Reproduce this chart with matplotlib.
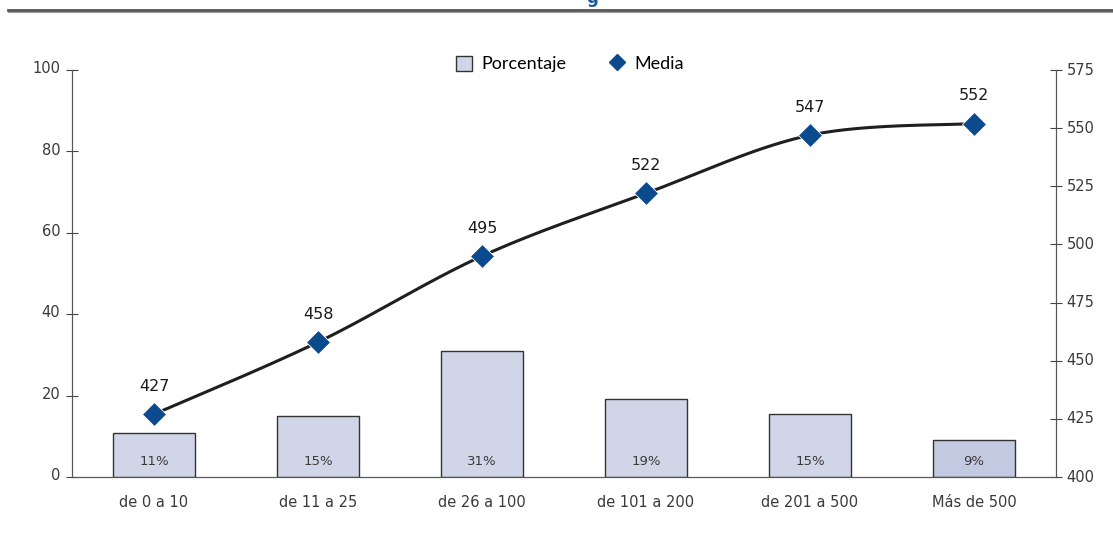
import numpy as np
import matplotlib
matplotlib.use('Agg')
import matplotlib.pyplot as plt
from matplotlib.transforms import ScaledTranslation
from matplotlib.patches import Patch
from matplotlib.lines import Line2D

plt.rcParams['font.family'] = ['DejaVu Sans']

# ---------------------------------------------------------------------------
# Data
# ---------------------------------------------------------------------------
categories = ['de 0 a 10', 'de 11 a 25', 'de 26 a 100', 'de 101 a 200',
              'de 201 a 500', 'Más de 500']
porcentaje = [10.8, 15.1, 30.9, 19.1, 15.4, 9.0]
pct_labels = ['11%', '15%', '31%', '19%', '15%', '9%']
media = [427, 458, 495, 522, 547, 552]

BAR_COLOR = '#d0d5e8'
BAR_LAST = '#c3c9e1'
DIAMOND = '#0b4a8c'
TXT = '#3a3a3a'


def smooth_bezier(xs, ys, n=50):
    # spreadsheet-style smoothed line: cubic Bezier per segment,
    # control points at 1/6 of neighbour differences, ends duplicated
    P = np.column_stack([xs, ys]).astype(float)
    P = np.vstack([P[:1], P, P[-1:]])
    t = np.linspace(0, 1, n)[:, None]
    pts = []
    for i in range(1, len(P) - 2):
        p0, p3 = P[i], P[i + 1]
        c1 = p0 + (P[i + 1] - P[i - 1]) / 6
        c2 = p3 - (P[i + 2] - P[i]) / 6
        seg = ((1 - t) ** 3 * p0 + 3 * (1 - t) ** 2 * t * c1
               + 3 * (1 - t) * t ** 2 * c2 + t ** 3 * p3)
        pts.append(seg)
    pts = np.vstack(pts)
    return pts[:, 0], pts[:, 1]


fig = plt.figure(figsize=(11.13, 5.43), dpi=100)
ax = fig.add_axes([0.0647, 0.1215, 0.8841, 0.7495])
ax2 = ax.twinx()

x = np.arange(len(categories))
colors = [BAR_COLOR] * (len(categories) - 1) + [BAR_LAST]
ax.bar(x, porcentaje, width=0.5, color=colors, edgecolor='#333333',
       linewidth=1.0, zorder=2)
for xi, lab in zip(x, pct_labels):
    ax.annotate(lab, (xi, 0), xytext=(0, 11), textcoords='offset points',
                ha='center', va='center', fontsize=9.5, color=TXT)

ax.set_xlim(-0.5, len(categories) - 0.5)
ax.set_ylim(0, 100)
ax.set_yticks(range(0, 101, 20))
ax.set_xticks(x)
ax.set_xticklabels(categories, fontsize=10.5, color=TXT)
ax.tick_params(axis='x', length=0, pad=13)
ax.tick_params(axis='y', direction='inout', length=9, width=0.8,
               colors='#444444', labelsize=10.5, labelcolor=TXT, pad=4)
for lab in ax.get_yticklabels():
    lab.set_transform(lab.get_transform() + ScaledTranslation(0, 2 / 72, fig.dpi_scale_trans))

# right axis: media
sx, sy = smooth_bezier(x, media)
ax2.plot(sx, sy, color='#1f1f1f', linewidth=2.2, zorder=3, solid_capstyle='round')
ax2.plot(x, media, linestyle='none', marker='D', markersize=12,
         color=DIAMOND, markeredgecolor='white', markeredgewidth=0.6, zorder=4)
for xi, v in zip(x, media):
    ax2.annotate(str(v), (xi, v), xytext=(0, 20), textcoords='offset points',
                 ha='center', va='center', fontsize=11.5, color='#1a1a1a')
ax2.set_ylim(400, 575)
ax2.set_yticks(range(400, 576, 25))
ax2.tick_params(axis='y', direction='inout', length=9, width=0.8,
                colors='#444444', labelsize=10.5, labelcolor=TXT, pad=3)
for lab in ax2.get_yticklabels():
    lab.set_transform(lab.get_transform() + ScaledTranslation(0, 1 / 72, fig.dpi_scale_trans))

for a in (ax, ax2):
    a.spines['top'].set_visible(False)
    a.spines['left'].set_color('#555555')
    a.spines['right'].set_color('#555555')
    a.spines['bottom'].set_color('#555555')
    a.spines['left'].set_linewidth(0.8)
    a.spines['right'].set_linewidth(0.8)
ax.set_zorder(ax2.get_zorder() - 1)
ax2.patch.set_visible(False)

# legend
handles = [Patch(facecolor=BAR_COLOR, edgecolor='#333333', linewidth=1.0),
           Line2D([], [], linestyle='none', marker='D', markersize=8, color=DIAMOND)]
ax2.legend(handles, ['Porcentaje', 'Media'], ncol=2, frameon=False,
           loc='center', bbox_to_anchor=(0.506, 1.015),
           prop={'family': ['Lato', 'DejaVu Sans'], 'size': 13},
           handlelength=0.9, handleheight=0.9, handletextpad=0.5,
           columnspacing=2.4)

# header rule and clipped title descender
fig.add_artist(Line2D([0.007, 1.0], [0.982, 0.982], color='#555555', linewidth=2.0))
fig.add_artist(Line2D([0.007, 1.0], [0.978, 0.978], color='#999999', linewidth=0.8))
fig.text(0.532, 1.003, 'g', color='#1a5aa0', fontsize=12, ha='center', va='center',
         fontweight='bold')

fig.savefig('out.png', dpi=100)
